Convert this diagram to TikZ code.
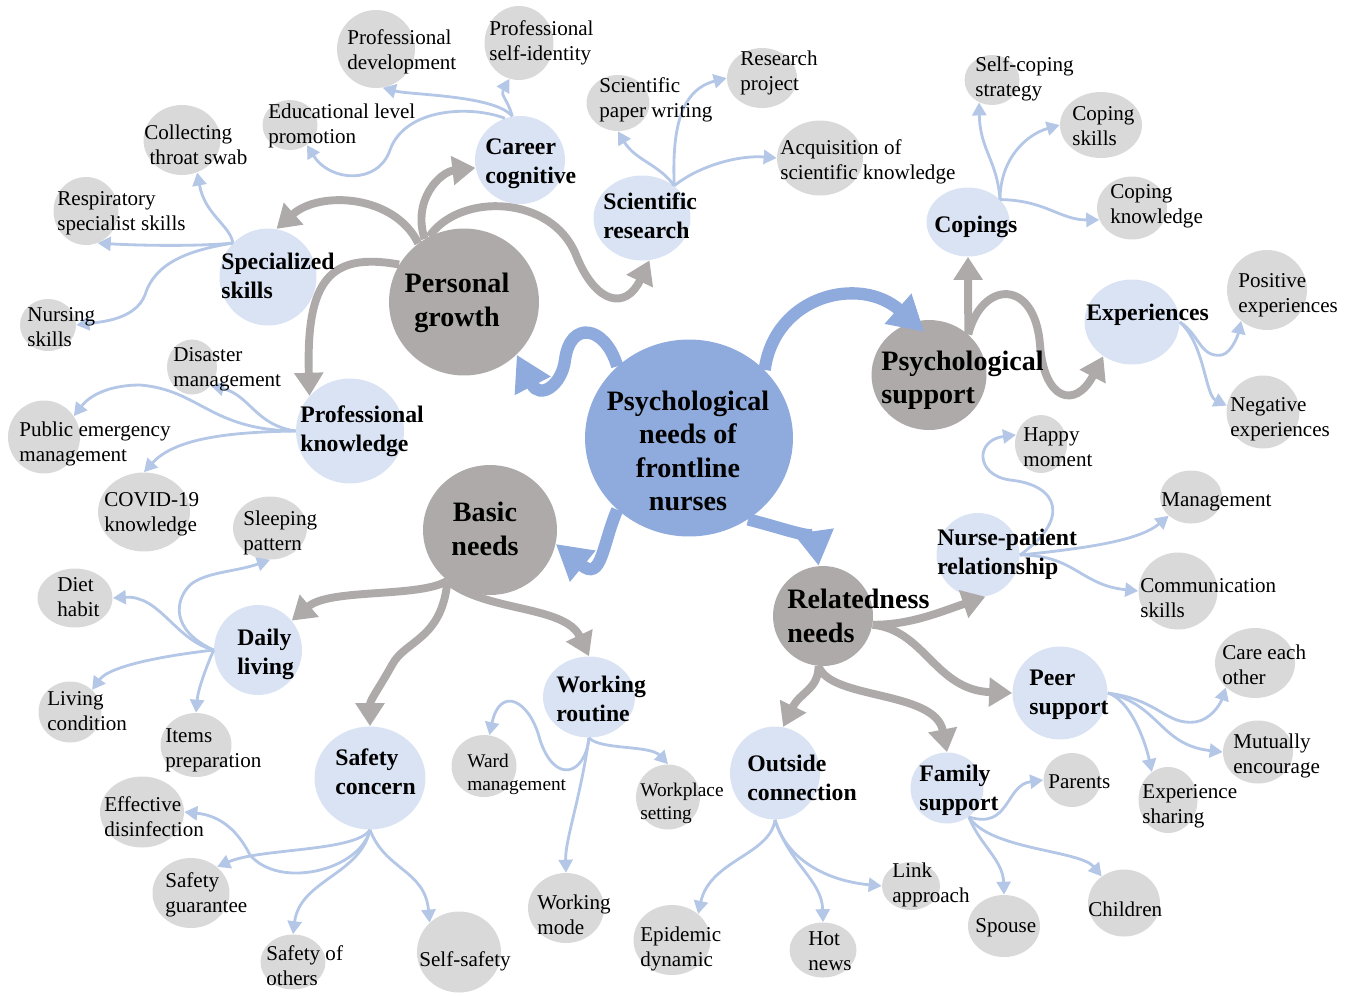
\documentclass[tikz,border=0pt]{standalone}
\usepackage{fontspec}
\setmainfont{Liberation Serif}
\usetikzlibrary{arrows.meta,shapes.geometric}
\definecolor{CoreBlue}{RGB}{143,170,220}
\definecolor{HubGrey}{RGB}{174,170,170}
\definecolor{TopicBlue}{RGB}{218,227,243}
\definecolor{LeafGrey}{RGB}{217,217,217}
\definecolor{LinkBlue}{RGB}{180,199,231}
\tikzset{
  core/.style 2 args={ellipse,fill=CoreBlue,inner sep=0pt,
    minimum width=#1,minimum height=#2},
  hub/.style 2 args={ellipse,fill=HubGrey,inner sep=0pt,
    minimum width=#1,minimum height=#2},
  topic/.style 2 args={ellipse,fill=TopicBlue,inner sep=0pt,
    minimum width=#1,minimum height=#2},
  leaf/.style 2 args={ellipse,fill=LeafGrey,inner sep=0pt,
    minimum width=#1,minimum height=#2},
  hubtext/.style={font=\fontsize{16}{19}\selectfont\bfseries,inner sep=0pt,
    align=center,yshift=-0.06cm},
  topictext/.style={font=\fontsize{13.5}{16.4}\selectfont\bfseries,inner sep=0pt,
    align=left,anchor=west,yshift=-0.06cm},
  leaftext/.style={font=\fontsize{12}{14.2}\selectfont,inner sep=0pt,
    align=left,anchor=west,yshift=-0.06cm},
  corearrow/.style={-{Triangle[length=0.7cm,width=0.76cm]},line width=7pt,CoreBlue},
  hubarrow/.style={-{Triangle[length=0.46cm,width=0.56cm]},line width=4.5pt,HubGrey},
  leafarrow/.style={-{Triangle[length=0.26cm,width=0.28cm]},line width=1.6pt,LinkBlue}
}

\begin{document}
\begin{tikzpicture}[
  x=0.02cm,
  y=-0.02cm,
  leafsmall/.style={
    leaftext,
    font=\fontsize{11}{13}\selectfont
  }
]
\useasboundingbox (0,0) rectangle (1354,995);

% Core and the four needs
\node[core={4.16cm}{3.94cm}] (cn) at (689,438) {};
\node[hub={3cm}{2.94cm}] (pg) at (464,302) {};
\node[hub={2.3cm}{2.2cm}] (ps) at (929,375) {};
\node[hub={2.68cm}{2.6cm}] (bn) at (490,530) {};
\node[hub={2cm}{2cm}] (rn) at (823,616) {};

% Themes
\node[topic={1.8cm}{1.76cm}] (cc) at (520,160) {};
\node[topic={1.94cm}{1.7cm}] (sr) at (642,218) {};
\node[topic={1.94cm}{1.94cm}] (ss) at (268,277) {};
\node[topic={2.16cm}{2.1cm}] (pk) at (350,431) {};
\node[topic={1.66cm}{1.38cm}] (cp) at (968,222) {};
\node[topic={1.9cm}{1.7cm}] (ex) at (1132,322) {};
\node[topic={1.66cm}{1.68cm}] (np) at (978,555) {};
\node[topic={1.9cm}{1.86cm}] (pe) at (1060,693) {};
\node[topic={1.46cm}{1.42cm}] (fs) at (947,788) {};
\node[topic={1.8cm}{1.86cm}] (oc) at (775,773) {};
\node[topic={1.76cm}{1.8cm}] (dl) at (258,650) {};
\node[topic={2.22cm}{2.06cm}] (sc) at (370,778) {};
\node[topic={1.84cm}{1.62cm}] (wr) at (589,697) {};

% Subthemes
\node[leaf={1.56cm}{1.56cm}] (pdev) at (376,49) {};
\node[leaf={1.38cm}{1.48cm}] (pself) at (519,43) {};
\node[leaf={1.1cm}{1cm}] (edu) at (290,125) {};
\node[leaf={1.54cm}{1.4cm}] (swab) at (182,140) {};
\node[leaf={1.3cm}{1.36cm}] (resp) at (86,211) {};
\node[leaf={1.12cm}{1.04cm}] (nurs) at (48,325) {};
\node[leaf={1cm}{1.1cm}] (dis) at (192,367) {};
\node[leaf={1.44cm}{1.46cm}] (pem) at (44,437) {};
\node[leaf={1.84cm}{1.58cm}] (covid) at (144,512) {};
\node[leaf={1.48cm}{1.26cm}] (sleep) at (270,528) {};
\node[leaf={1.5cm}{1.18cm}] (diet) at (75,598) {};
\node[leaf={1.26cm}{1.22cm}] (livc) at (70,712) {};
\node[leaf={1.42cm}{1.28cm}] (items) at (196,745) {};
\node[leaf={1.68cm}{1.42cm}] (disinf) at (142,812) {};
\node[leaf={1.54cm}{1.4cm}] (sguar) at (191,893) {};
\node[leaf={1.3cm}{1.1cm}] (sothers) at (293,962) {};
\node[leaf={1.68cm}{1.62cm}] (sself) at (459,952) {};
\node[leaf={1.3cm}{1.24cm}] (ward) at (484,766) {};
\node[leaf={1.28cm}{1.3cm}] (wplace) at (668,797) {};
\node[leaf={1.52cm}{1.4cm}] (wmode) at (566,908) {};
\node[leaf={1.54cm}{1.4cm}] (epi) at (672,940) {};
\node[leaf={1.34cm}{1.1cm}] (hot) at (823,950) {};
\node[leaf={1.16cm}{0.96cm}] (link) at (911,886) {};
\node[leaf={1.44cm}{1.24cm}] (spouse) at (1004,926) {};
\node[leaf={1.44cm}{1.34cm}] (child) at (1124,903) {};
\node[leaf={1.14cm}{1.08cm}] (parent) at (1072,780) {};
\node[leaf={1.18cm}{1.32cm}] (exsh) at (1168,800) {};
\node[leaf={1.4cm}{1.26cm}] (mutual) at (1258,752) {};
\node[leaf={1.6cm}{1.4cm}] (care) at (1255,663) {};
\node[leaf={1.58cm}{1.54cm}] (comm) at (1178,591) {};
\node[leaf={1.24cm}{1.06cm}] (mgmt) at (1191,497) {};
\node[leaf={1.04cm}{1.16cm}] (happy) at (1041,444) {};
\node[leaf={1.46cm}{1.46cm}] (neg) at (1263,412) {};
\node[leaf={1.6cm}{1.6cm}] (pos) at (1267,290) {};
\node[leaf={1.4cm}{1.26cm}] (cknow) at (1132,208) {};
\node[leaf={1.64cm}{1.32cm}] (cskill) at (1101,125) {};
\node[leaf={1.1cm}{1cm}] (selfc) at (992,80) {};
\node[leaf={1.72cm}{1.5cm}] (acq) at (820,158) {};
\node[leaf={1.4cm}{1.2cm}] (rproj) at (762,78) {};
\node[leaf={1.26cm}{1.12cm}] (paper) at (618,103) {};

% Core to needs
\draw[corearrow] (cn.135) .. controls (605,325) and (570,320) .. (565,360)
  .. controls (562,385) and (540,400) .. (pg.-45);
\draw[corearrow] (cn.42) .. controls (775,295) and (860,275) .. ([yshift=-0.24cm]ps.95);
\draw[corearrow] (cn.225) .. controls (602,545) and (602,582) .. (bn.-12);
\draw[corearrow] (cn.-54) .. controls (782,528) and (815,540) .. (rn.95);

% Needs to themes
\draw[hubarrow] (pg.128) .. controls (395,195) and (320,190) .. (ss.80);
\draw[hubarrow] (pg.122) .. controls (412,200) and (440,172) .. (cc.190);
\draw[hubarrow] (pg.118) .. controls (460,192) and (552,195) .. (576,255)
  .. controls (596,305) and (626,310) .. (sr.-80);
\draw[hubarrow] (pg.150) .. controls (330,252) and (306,280) .. (pk.139);
\draw[hubarrow] (ps.46) -- (cp.south);
\draw[hubarrow] (ps.46) .. controls (982,280) and (1035,278) .. (1040,345)
  .. controls (1044,400) and (1075,410) .. (ex.230);
\draw[hubarrow] (bn.230) .. controls (420,598) and (330,588) .. (dl.41);
\draw[hubarrow] (bn.230) .. controls (442,640) and (405,640) .. (392,665)
  .. controls (378,690) and (370,700) .. (sc.north);
\draw[hubarrow] (bn.230) .. controls (485,612) and (565,605) .. (wr.north);
\draw[hubarrow] (rn.-10) .. controls (910,625) and (940,612) .. (np.-80);
\draw[hubarrow] (rn.-10) .. controls (925,630) and (935,690) .. (pe.west);
\draw[hubarrow] (rn.265) .. controls (818,690) and (800,692) .. (oc.80);
\draw[hubarrow] (rn.265) .. controls (830,700) and (935,690) .. (fs.north);

% Themes to subthemes
\draw[leafarrow] (cc.100) .. controls (495,95) and (410,95) .. (pdev.-80);
\draw[leafarrow] (cc.100) .. controls (508,100) and (500,95) .. (pself.255);
\draw[leafarrow] (cc.110) .. controls (470,105) and (405,108) .. (390,150)
  .. controls (378,185) and (330,182) .. (edu.-50);
\draw[leafarrow] (sr.45) .. controls (660,165) and (635,160) .. (paper.south);
\draw[leafarrow] (sr.45) .. controls (672,130) and (680,90) .. (rproj.180);
\draw[leafarrow] (sr.45) .. controls (700,165) and (740,155) .. (acq.west);
\draw[leafarrow] (ss.136) .. controls (230,225) and (205,215) .. (swab.-65);
\draw[leafarrow] (ss.136) .. controls (190,247) and (130,245) .. (resp.-70);
\draw[leafarrow] (ss.136) .. controls (190,250) and (155,262) .. (145,295)
  .. controls (135,320) and (100,322) .. (nurs.east);
\draw[leafarrow] (pk.west) .. controls (255,425) and (250,395) .. (dis.-45);
\draw[leafarrow] (pk.west) .. controls (210,430) and (200,390) .. (140,385)
  .. controls (110,385) and (90,395) .. (pem.35);
\draw[leafarrow] (pk.west) .. controls (230,432) and (175,438) .. (covid.north);
\draw[leafarrow] (dl.west) .. controls (175,640) and (160,595) .. (diet.east);
\draw[leafarrow] (dl.west) .. controls (170,630) and (175,600) .. (190,585)
  .. controls (205,572) and (235,572) .. (sleep.south);
\draw[leafarrow] (dl.west) .. controls (170,655) and (110,665) .. (livc.45);
\draw[leafarrow] (dl.west) .. controls (205,670) and (198,690) .. (items.north);
\draw[leafarrow] (sc.south) .. controls (360,870) and (280,890) .. (250,855)
  .. controls (235,825) and (215,815) .. (disinf.east);
\draw[leafarrow] (sc.south) .. controls (355,852) and (260,848) .. (sguar.45);
\draw[leafarrow] (sc.south) .. controls (360,875) and (300,880) .. (sothers.north);
\draw[leafarrow] (sc.south) .. controls (385,870) and (425,870) .. (sself.135);
\draw[leafarrow] (wr.south) .. controls (585,775) and (555,785) .. (540,740)
  .. controls (530,700) and (500,685) .. (ward.80);
\draw[leafarrow] (wr.south) .. controls (600,750) and (650,745) .. (wplace.north);
\draw[leafarrow] (wr.south) .. controls (580,800) and (565,840) .. (wmode.north);
\draw[leafarrow] (oc.south) .. controls (785,855) and (820,880) .. (link.west);
\draw[leafarrow] (oc.south) .. controls (790,865) and (822,880) .. (hot.north);
\draw[leafarrow] (oc.south) .. controls (770,855) and (710,860) .. (epi.45);
\draw[leafarrow] (fs.-53) .. controls (1010,830) and (1005,785) .. (parent.west);
\draw[leafarrow] (fs.-53) .. controls (980,845) and (1003,860) .. (spouse.north);
\draw[leafarrow] (fs.-53) .. controls (990,850) and (1080,850) .. (child.130);
\draw[leafarrow] (pe.east) .. controls (1160,700) and (1165,725) .. (1195,722)
  .. controls (1210,720) and (1220,705) .. (care.220);
\draw[leafarrow] (pe.east) .. controls (1160,705) and (1160,745) .. (mutual.west);
\draw[leafarrow] (pe.east) .. controls (1130,700) and (1145,740) .. (exsh.120);
\draw[leafarrow] (np.east) .. controls (1070,520) and (1060,485) .. (1010,480)
  .. controls (975,475) and (975,440) .. (happy.160);
\draw[leafarrow] (np.east) .. controls (1090,548) and (1140,540) .. (mgmt.220);
\draw[leafarrow] (np.east) .. controls (1075,555) and (1080,585) .. (comm.west);
\draw[leafarrow] (cp.35) .. controls (997,160) and (980,150) .. (selfc.240);
\draw[leafarrow] (cp.35) .. controls (1000,160) and (1025,135) .. (cskill.west);
\draw[leafarrow] (cp.35) .. controls (1045,200) and (1060,220) .. (cknow.200);
\draw[leafarrow] (ex.east) .. controls (1200,335) and (1200,358) .. (1222,355)
  .. controls (1232,352) and (1238,335) .. (pos.230);
\draw[leafarrow] (ex.east) .. controls (1205,345) and (1205,395) .. (neg.170);

% Labels
\node[hubtext] (cn-t) at (688,448) {Psychological\\needs of\\frontline\\nurses};
\node[hubtext] (pg-t) at (457,300) {Personal\\growth};
\node[hubtext] (bn-t) at (485,526) {Basic\\needs};
\node[hubtext,anchor=west,align=left] (ps-t) at (881,377) {Psychological\\support};
\node[hubtext,anchor=west,align=left] (rn-t) at (787,613) {Relatedness\\needs};

\node[topictext] (cc-t) at (485,161) {Career\\cognitive};
\node[topictext] (sr-t) at (603,213) {Scientific\\research};
\node[topictext] (ss-t) at (221,273) {Specialized\\skills};
\node[topictext] (pk-t) at (300,428) {Professional\\knowledge};
\node[topictext] (cp-t) at (934,224) {Copings};
\node[topictext] (ex-t) at (1086,312) {Experiences};
\node[topictext] (np-t) at (937,551) {Nurse-patient\\relationship};
\node[topictext] (pe-t) at (1029,692) {Peer\\support};
\node[topictext] (fs-t) at (919,787) {Family\\support};
\node[topictext] (oc-t) at (747,775) {Outside\\connection};
\node[topictext] (dl-t) at (237,651) {Daily\\living};
\node[topictext] (sc-t) at (335,769) {Safety\\concern};
\node[topictext] (wr-t) at (556,696) {Working\\routine};

\node[leaftext] (pdev-t) at (347,49) {Professional\\development};
\node[leaftext] (pself-t) at (489,40) {Professional\\self-identity};
\node[leaftext] (edu-t) at (268,123) {Educational level\\promotion};
\node[leaftext] (swab-t) at (144,142) {Collecting\\\hspace*{3pt}throat swab};
\node[leaftext] (resp-t) at (57,210) {Respiratory\\specialist skills};
\node[leaftext] (nurs-t) at (27,324) {Nursing\\skills};
\node[leaftext] (dis-t) at (173,366) {Disaster\\management};
\node[leaftext] (pem-t) at (19,441) {Public emergency\\management};
\node[leaftext] (covid-t) at (104,511) {COVID-19\\knowledge};
\node[leaftext] (sleep-t) at (243,530) {Sleeping\\pattern};
\node[leaftext] (diet-t) at (57,594) {Diet\\habit};
\node[leaftext] (livc-t) at (47,708) {Living\\condition};
\node[leaftext] (items-t) at (165,747) {Items\\preparation};
\node[leaftext] (disinf-t) at (104,814) {Effective\\disinfection};
\node[leaftext] (sguar-t) at (165,892) {Safety\\guarantee};
\node[leaftext] (sothers-t) at (266,963) {Safety of\\others};
\node[leaftext] (sself-t) at (419,958) {Self-safety};
\node[leafsmall] (ward-t) at (467,771) {Ward\\management};
\node[leafsmall] (wplace-t) at (640,800) {Workplace\\setting};
\node[leaftext] (wmode-t) at (537,912) {Working\\mode};
\node[leaftext] (epi-t) at (640,946) {Epidemic\\dynamic};
\node[leaftext] (hot-t) at (808,948) {Hot\\news};
\node[leaftext] (link-t) at (892,882) {Link\\approach};
\node[leaftext] (spouse-t) at (975,925) {Spouse};
\node[leaftext] (child-t) at (1088,906) {Children};
\node[leaftext] (parent-t) at (1048,779) {Parents};
\node[leaftext] (exsh-t) at (1142,803) {Experience\\sharing};
\node[leaftext] (mutual-t) at (1233,753) {Mutually\\encourage};
\node[leaftext] (care-t) at (1222,662) {Care each\\other};
\node[leaftext] (comm-t) at (1140,595) {Communication\\skills};
\node[leaftext] (mgmt-t) at (1161,499) {Management};
\node[leaftext] (happy-t) at (1023,444) {Happy\\moment};
\node[leaftext] (neg-t) at (1230,416) {Negative\\experiences};
\node[leaftext] (pos-t) at (1238,292) {Positive\\experiences};
\node[leaftext] (cknow-t) at (1110,203) {Coping\\knowledge};
\node[leaftext] (cskill-t) at (1072,123) {Coping\\skills};
\node[leaftext] (selfc-t) at (975,76) {Self-coping\\strategy};
\node[leaftext] (acq-t) at (780,159) {Acquisition of\\scientific knowledge};
\node[leaftext] (rproj-t) at (740,70) {Research\\project};
\node[leaftext] (paper-t) at (599,97) {Scientific\\paper writing};

\end{tikzpicture}
\end{document}
